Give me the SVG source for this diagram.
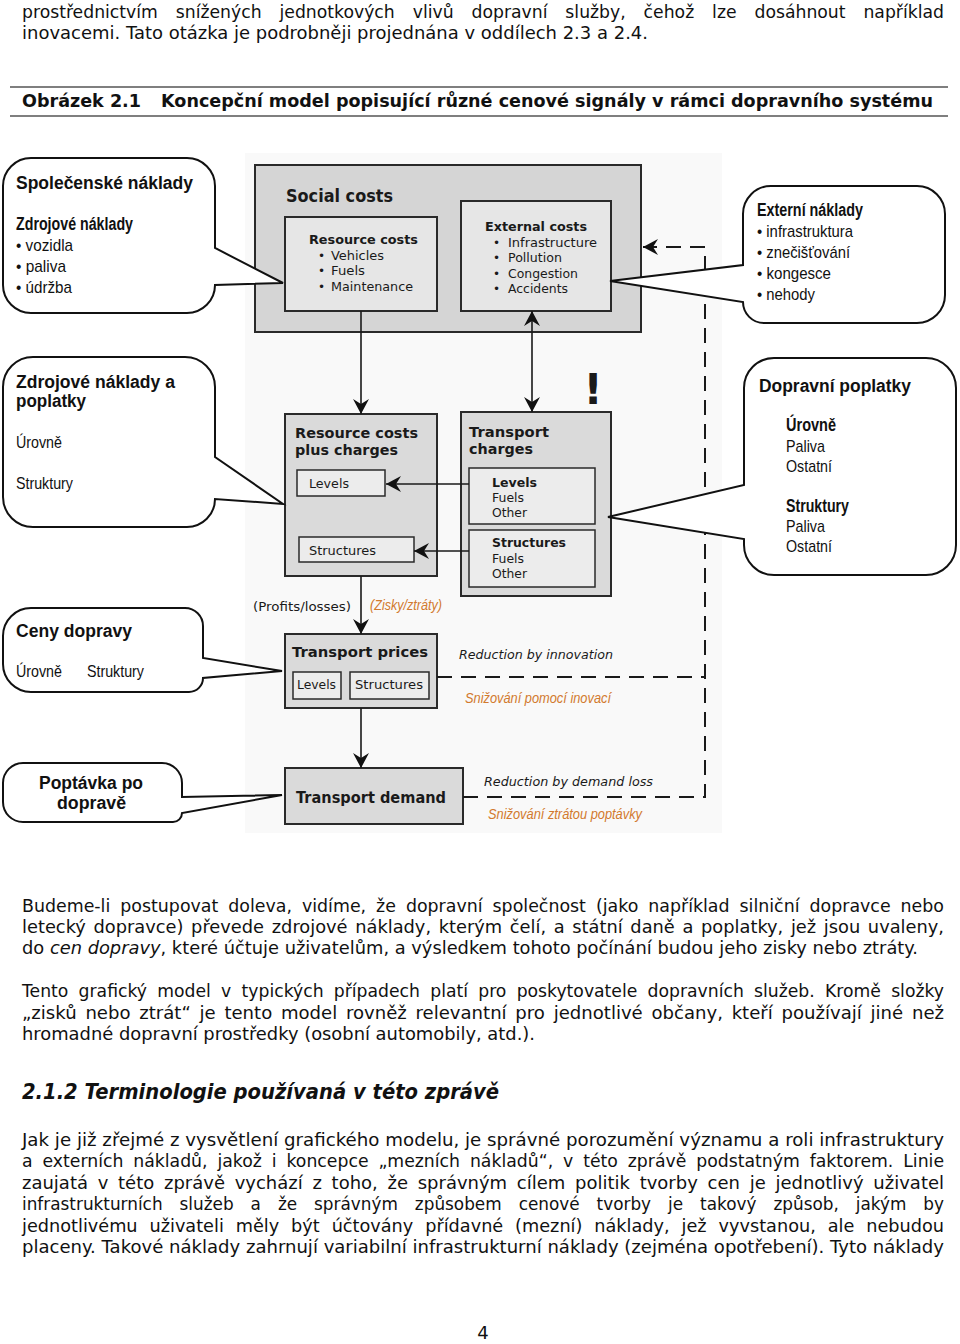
<svg xmlns="http://www.w3.org/2000/svg" width="960" height="1344" viewBox="0 0 960 1344">
<style>
.body{font-family:"DejaVu Sans",Verdana,sans-serif;font-size:18px;fill:#111}
.cap{font-family:"DejaVu Sans",Verdana,sans-serif;font-size:17.5px;font-weight:bold;fill:#111}
.h2{font-family:"DejaVu Sans",Verdana,sans-serif;font-size:20.5px;font-weight:bold;font-style:italic;fill:#111}
.box{stroke:#2a2a2a;stroke-width:2}
.outer{fill:#d5d5d5}
.inner{fill:#e6e6e6}
.mid{fill:#dadada}
.sub{fill:#ececec}
.dt{font-family:"DejaVu Sans",Verdana,sans-serif;fill:#1a1a1a}
.dtb{font-family:"DejaVu Sans",Verdana,sans-serif;font-weight:bold;fill:#1a1a1a}
.it{font-family:"DejaVu Sans",Verdana,sans-serif;font-style:italic;font-size:12px;fill:#1a1a1a}
.or{font-family:"Liberation Sans Narrow","Liberation Sans",Arial,sans-serif;font-style:italic;font-size:15px;fill:#d27a2e}
.call{fill:#fff;stroke:#111;stroke-width:2}
.cb{font-family:"Liberation Sans",Arial,sans-serif;font-weight:bold;font-size:18px;fill:#111}
.cnb{font-family:"Liberation Sans Narrow","Liberation Sans",Arial,sans-serif;font-weight:bold;font-size:18px;fill:#111}
.cn{font-family:"Liberation Sans Narrow","Liberation Sans",Arial,sans-serif;font-size:17px;fill:#111}
.ln{stroke:#1a1a1a;stroke-width:1.6;fill:none}
.dash{stroke:#1a1a1a;stroke-width:2;fill:none;stroke-dasharray:15 9}
</style>
<defs>
<marker id="ah" markerUnits="userSpaceOnUse" markerWidth="18" markerHeight="18" refX="15" refY="8" orient="auto-start-reverse" viewBox="0 0 18 16">
<path d="M0,0 L15,8 L0,16 L5,8 Z" fill="#111"/>
</marker>
</defs>
<rect width="960" height="1344" fill="#fff"/>

<g id="header-text">
<text class="body" x="22" y="18" textLength="922" lengthAdjust="spacingAndGlyphs" word-spacing="13">prostřednictvím snížených jednotkových vlivů dopravní služby, čehož lze dosáhnout například</text>
<text class="body" x="22" y="39" textLength="626" lengthAdjust="spacingAndGlyphs">inovacemi. Tato otázka je podrobněji projednána v oddílech 2.3 a 2.4.</text>
</g>

<g id="caption">
<line x1="10" y1="87" x2="948" y2="87" stroke="#555" stroke-width="1.5"/>
<line x1="10" y1="116" x2="948" y2="116" stroke="#555" stroke-width="1.5"/>
<text class="cap" x="22" y="107" textLength="119" lengthAdjust="spacingAndGlyphs">Obrázek 2.1</text>
<text class="cap" x="161" y="107" textLength="772" lengthAdjust="spacingAndGlyphs">Koncepční model popisující různé cenové signály v rámci dopravního systému</text>
</g>

<rect x="245" y="153" width="477" height="680" fill="#f9f9f9"/>

<g id="social-costs">
<rect class="box outer" x="255" y="165" width="386" height="167"/>
<text class="dtb" x="286" y="202" font-size="17" textLength="107" lengthAdjust="spacingAndGlyphs">Social costs</text>
</g>

<g id="resource-costs">
<rect class="box inner" x="285" y="217" width="152" height="94"/>
<text class="dtb" x="309" y="244" font-size="12.5" textLength="109" lengthAdjust="spacingAndGlyphs">Resource costs</text>
<text class="dt" x="318" y="260" font-size="12">•</text>
<text class="dt" x="331" y="260" font-size="12" textLength="53" lengthAdjust="spacingAndGlyphs">Vehicles</text>
<text class="dt" x="318" y="275" font-size="12">•</text>
<text class="dt" x="331" y="275" font-size="12" textLength="34" lengthAdjust="spacingAndGlyphs">Fuels</text>
<text class="dt" x="318" y="291" font-size="12">•</text>
<text class="dt" x="331" y="291" font-size="12" textLength="82" lengthAdjust="spacingAndGlyphs">Maintenance</text>
</g>

<g id="external-costs">
<rect class="box inner" x="461" y="201" width="150" height="110"/>
<text class="dtb" x="485" y="231" font-size="12.5" textLength="102" lengthAdjust="spacingAndGlyphs">External costs</text>
<text class="dt" x="493" y="247" font-size="12">•</text>
<text class="dt" x="508" y="247" font-size="12" textLength="89" lengthAdjust="spacingAndGlyphs">Infrastructure</text>
<text class="dt" x="493" y="262" font-size="12">•</text>
<text class="dt" x="508" y="262" font-size="12" textLength="54" lengthAdjust="spacingAndGlyphs">Pollution</text>
<text class="dt" x="493" y="278" font-size="12">•</text>
<text class="dt" x="508" y="278" font-size="12" textLength="70" lengthAdjust="spacingAndGlyphs">Congestion</text>
<text class="dt" x="493" y="293" font-size="12">•</text>
<text class="dt" x="508" y="293" font-size="12" textLength="60" lengthAdjust="spacingAndGlyphs">Accidents</text>
</g>

<g id="resource-costs-plus-charges">
<rect class="box mid" x="285" y="414" width="152" height="162"/>
<text class="dtb" x="295" y="438" font-size="13.5" textLength="123" lengthAdjust="spacingAndGlyphs">Resource costs</text>
<text class="dtb" x="295" y="455" font-size="13.5" textLength="103" lengthAdjust="spacingAndGlyphs">plus charges</text>
<rect class="sub" x="297" y="470" width="88" height="26" stroke="#2a2a2a" stroke-width="1.5"/>
<text class="dt" x="309" y="488" font-size="12" textLength="40" lengthAdjust="spacingAndGlyphs">Levels</text>
<rect class="sub" x="299" y="537" width="115" height="25" stroke="#2a2a2a" stroke-width="1.5"/>
<text class="dt" x="309" y="555" font-size="12" textLength="67" lengthAdjust="spacingAndGlyphs">Structures</text>
</g>

<g id="transport-charges">
<rect class="box mid" x="461" y="412" width="150" height="184"/>
<text class="dtb" x="469" y="437" font-size="13.5" textLength="80" lengthAdjust="spacingAndGlyphs">Transport</text>
<text class="dtb" x="469" y="454" font-size="13.5" textLength="64" lengthAdjust="spacingAndGlyphs">charges</text>
<rect class="sub" x="469" y="468" width="126" height="56" stroke="#2a2a2a" stroke-width="1.5"/>
<text class="dtb" x="492" y="487" font-size="12" textLength="45" lengthAdjust="spacingAndGlyphs">Levels</text>
<text class="dt" x="492" y="502" font-size="12" textLength="32" lengthAdjust="spacingAndGlyphs">Fuels</text>
<text class="dt" x="492" y="517" font-size="12" textLength="35" lengthAdjust="spacingAndGlyphs">Other</text>
<rect class="sub" x="469" y="530" width="126" height="57" stroke="#2a2a2a" stroke-width="1.5"/>
<text class="dtb" x="492" y="547" font-size="12" textLength="74" lengthAdjust="spacingAndGlyphs">Structures</text>
<text class="dt" x="492" y="563" font-size="12" textLength="32" lengthAdjust="spacingAndGlyphs">Fuels</text>
<text class="dt" x="492" y="578" font-size="12" textLength="35" lengthAdjust="spacingAndGlyphs">Other</text>
</g>

<g id="exclamation">
<text class="dtb" x="593" y="404" font-size="42" text-anchor="middle">!</text>
</g>

<g id="transport-prices">
<rect class="box mid" x="285" y="634" width="152" height="74"/>
<text class="dtb" x="292" y="657" font-size="14" textLength="136" lengthAdjust="spacingAndGlyphs">Transport prices</text>
<rect class="sub" x="293" y="672" width="48" height="27" stroke="#2a2a2a" stroke-width="1.5"/>
<text class="dt" x="297" y="689" font-size="12" textLength="39" lengthAdjust="spacingAndGlyphs">Levels</text>
<rect class="sub" x="350" y="672" width="79" height="27" stroke="#2a2a2a" stroke-width="1.5"/>
<text class="dt" x="355" y="689" font-size="12" textLength="68" lengthAdjust="spacingAndGlyphs">Structures</text>
</g>

<g id="transport-demand">
<rect class="box mid" x="285" y="768" width="178" height="56"/>
<text class="dtb" x="296" y="803" font-size="15" textLength="150" lengthAdjust="spacingAndGlyphs">Transport demand</text>
</g>

<g id="connectors">
<line class="ln" x1="361" y1="311" x2="361" y2="414" marker-end="url(#ah)"/>
<line class="ln" x1="532" y1="311" x2="532" y2="412" marker-start="url(#ah)" marker-end="url(#ah)"/>
<line class="ln" x1="469" y1="484" x2="386" y2="484" marker-end="url(#ah)"/>
<line class="ln" x1="469" y1="551" x2="414" y2="551" marker-end="url(#ah)"/>
<line class="ln" x1="361" y1="576" x2="361" y2="634" marker-end="url(#ah)"/>
<line class="ln" x1="361" y1="708" x2="361" y2="768" marker-end="url(#ah)"/>
<path class="dash" d="M463,797 H705 V247 H643" marker-end="url(#ah)"/>
<path class="dash" d="M437,677 H705"/>
</g>

<g id="connector-labels">
<text class="dt" x="253" y="611" font-size="12" textLength="98" lengthAdjust="spacingAndGlyphs">(Profits/losses)</text>
<text class="or" x="370" y="610" textLength="72" lengthAdjust="spacingAndGlyphs">(Zisky/ztráty)</text>
<text class="it" x="459" y="659" textLength="154" lengthAdjust="spacingAndGlyphs">Reduction by innovation</text>
<text class="or" x="465" y="703" textLength="146" lengthAdjust="spacingAndGlyphs">Snižování pomocí inovací</text>
<text class="it" x="484" y="786" textLength="169" lengthAdjust="spacingAndGlyphs">Reduction by demand loss</text>
<text class="or" x="488" y="819" textLength="154" lengthAdjust="spacingAndGlyphs">Snižování ztrátou poptávky</text>
</g>

<g id="callout-spolecenske">
<path class="call" d="M31,158 H187 A28,28 0 0 1 215,186 V248 L283,283 L215,285 A28,28 0 0 1 187,313 H31 A28,28 0 0 1 3,285 V186 A28,28 0 0 1 31,158 Z"/>
<text class="cb" x="16" y="189" textLength="177" lengthAdjust="spacingAndGlyphs">Společenské náklady</text>
<text class="cnb" x="16" y="230" textLength="117" lengthAdjust="spacingAndGlyphs">Zdrojové náklady</text>
<text class="cn" x="16" y="251" textLength="57" lengthAdjust="spacingAndGlyphs">• vozidla</text>
<text class="cn" x="16" y="272" textLength="50" lengthAdjust="spacingAndGlyphs">• paliva</text>
<text class="cn" x="16" y="293" textLength="56" lengthAdjust="spacingAndGlyphs">• údržba</text>
</g>

<g id="callout-externi">
<path class="call" d="M771,186 H917 A28,28 0 0 1 945,214 V295 A28,28 0 0 1 917,323 H764 A21,21 0 0 1 743,302 L610,281 L743,265 V214 A28,28 0 0 1 771,186 Z"/>
<text class="cnb" x="757" y="216" textLength="106" lengthAdjust="spacingAndGlyphs">Externí náklady</text>
<text class="cn" x="757" y="237" textLength="96" lengthAdjust="spacingAndGlyphs">• infrastruktura</text>
<text class="cn" x="757" y="258" textLength="93" lengthAdjust="spacingAndGlyphs">• znečišťování</text>
<text class="cn" x="757" y="279" textLength="74" lengthAdjust="spacingAndGlyphs">• kongesce</text>
<text class="cn" x="757" y="300" textLength="58" lengthAdjust="spacingAndGlyphs">• nehody</text>
</g>

<g id="callout-zdrojove-poplatky">
<path class="call" d="M33,357 H185 A30,30 0 0 1 215,387 V457 L283,504 L215,499 A28,28 0 0 1 187,527 H33 A30,30 0 0 1 3,497 V387 A30,30 0 0 1 33,357 Z"/>
<text class="cb" x="16" y="388" textLength="159" lengthAdjust="spacingAndGlyphs">Zdrojové náklady a</text>
<text class="cb" x="16" y="407" textLength="70" lengthAdjust="spacingAndGlyphs">poplatky</text>
<text class="cn" x="16" y="448" textLength="46" lengthAdjust="spacingAndGlyphs">Úrovně</text>
<text class="cn" x="16" y="489" textLength="57" lengthAdjust="spacingAndGlyphs">Struktury</text>
</g>

<g id="callout-dopravni-poplatky">
<path class="call" d="M774,358 H926 A30,30 0 0 1 956,388 V545 A30,30 0 0 1 926,575 H774 A30,30 0 0 1 744,545 V539 L608,517 L744,485 V388 A30,30 0 0 1 774,358 Z"/>
<text class="cb" x="759" y="392" textLength="152" lengthAdjust="spacingAndGlyphs">Dopravní poplatky</text>
<text class="cnb" x="786" y="431" textLength="50" lengthAdjust="spacingAndGlyphs">Úrovně</text>
<text class="cn" x="786" y="452" textLength="39" lengthAdjust="spacingAndGlyphs">Paliva</text>
<text class="cn" x="786" y="472" textLength="46" lengthAdjust="spacingAndGlyphs">Ostatní</text>
<text class="cnb" x="786" y="512" textLength="63" lengthAdjust="spacingAndGlyphs">Struktury</text>
<text class="cn" x="786" y="532" textLength="39" lengthAdjust="spacingAndGlyphs">Paliva</text>
<text class="cn" x="786" y="552" textLength="46" lengthAdjust="spacingAndGlyphs">Ostatní</text>
</g>

<g id="callout-ceny">
<path class="call" d="M31,608 H185 A18,18 0 0 1 203,626 V658 L282,671 L203,678 A14,14 0 0 1 189,692 H31 A28,28 0 0 1 3,664 V636 A28,28 0 0 1 31,608 Z"/>
<text class="cb" x="16" y="637" textLength="116" lengthAdjust="spacingAndGlyphs">Ceny dopravy</text>
<text class="cn" x="16" y="677" textLength="46" lengthAdjust="spacingAndGlyphs">Úrovně</text>
<text class="cn" x="87" y="677" textLength="57" lengthAdjust="spacingAndGlyphs">Struktury</text>
</g>

<g id="callout-poptavka">
<path class="call" d="M23,763 H162 A20,20 0 0 1 182,783 V797 L282,795 L182,813 A9,9 0 0 1 173,822 H23 A20,20 0 0 1 3,802 V783 A20,20 0 0 1 23,763 Z"/>
<text class="cb" x="39" y="789" textLength="104" lengthAdjust="spacingAndGlyphs">Poptávka po</text>
<text class="cb" x="57" y="809" textLength="69" lengthAdjust="spacingAndGlyphs">dopravě</text>
</g>

<g id="body-text">
<text class="body" x="22" y="912" textLength="922" lengthAdjust="spacingAndGlyphs" word-spacing="4.6">Budeme-li postupovat doleva, vidíme, že dopravní společnost (jako například silniční dopravce nebo</text>
<text class="body" x="22" y="933" textLength="922" lengthAdjust="spacingAndGlyphs" word-spacing="2">letecký dopravce) převede zdrojové náklady, kterým čelí, a státní daně a poplatky, jež jsou uvaleny,</text>
<text class="body" x="22" y="954" textLength="896" lengthAdjust="spacingAndGlyphs">do <tspan font-style="italic">cen dopravy</tspan>, které účtuje uživatelům, a výsledkem tohoto počínání budou jeho zisky nebo ztráty.</text>
<text class="body" x="22" y="997" textLength="922" lengthAdjust="spacingAndGlyphs" word-spacing="5">Tento grafický model v typických případech platí pro poskytovatele dopravních služeb. Kromě složky</text>
<text class="body" x="22" y="1019" textLength="922" lengthAdjust="spacingAndGlyphs" word-spacing="3">„zisků nebo ztrát“ je tento model rovněž relevantní pro jednotlivé občany, kteří používají jiné než</text>
<text class="body" x="22" y="1040" textLength="513" lengthAdjust="spacingAndGlyphs">hromadné dopravní prostředky (osobní automobily, atd.).</text>
<text class="h2" x="22" y="1099" textLength="477" lengthAdjust="spacingAndGlyphs">2.1.2 Terminologie používaná v této zprávě</text>
<text class="body" x="22" y="1146" textLength="922" lengthAdjust="spacingAndGlyphs">Jak je již zřejmé z vysvětlení grafického modelu, je správné porozumění významu a roli infrastruktury</text>
<text class="body" x="22" y="1167" textLength="922" lengthAdjust="spacingAndGlyphs" word-spacing="4.6">a externích nákladů, jakož i koncepce „mezních nákladů“, v této zprávě podstatným faktorem. Linie</text>
<text class="body" x="22" y="1189" textLength="922" lengthAdjust="spacingAndGlyphs" word-spacing="4">zaujatá v této zprávě vychází z toho, že správným cílem politik tvorby cen je jednotlivý uživatel</text>
<text class="body" x="22" y="1210" textLength="922" lengthAdjust="spacingAndGlyphs" word-spacing="12.4">infrastrukturních služeb a že správným způsobem cenové tvorby je takový způsob, jakým by</text>
<text class="body" x="22" y="1232" textLength="922" lengthAdjust="spacingAndGlyphs" word-spacing="6.4">jednotlivému uživateli měly být účtovány přídavné (mezní) náklady, jež vyvstanou, ale nebudou</text>
<text class="body" x="22" y="1253" textLength="922" lengthAdjust="spacingAndGlyphs">placeny. Takové náklady zahrnují variabilní infrastrukturní náklady (zejména opotřebení). Tyto náklady</text>
<text class="body" x="483" y="1339" text-anchor="middle">4</text>
</g>
</svg>
